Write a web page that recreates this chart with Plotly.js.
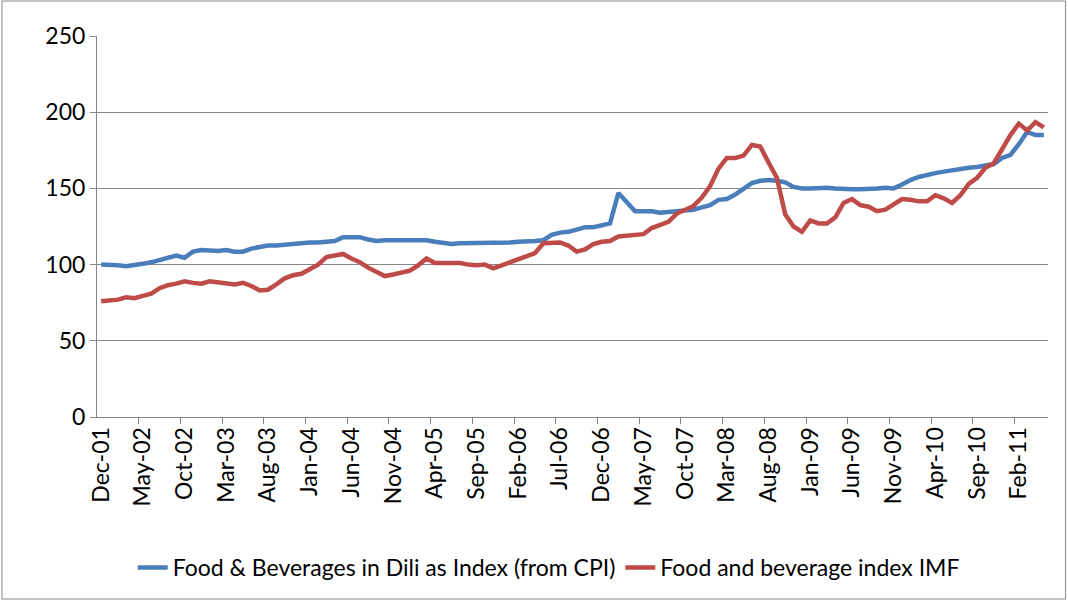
<!DOCTYPE html>
<html>
<head>
<meta charset="utf-8">
<script src="https://cdn.plot.ly/plotly-3.0.1.min.js"></script>
<style>
  html, body { margin: 0; padding: 0; background: #fff; }
  #chart { width: 1068px; height: 603px; }
</style>
</head>
<body>
<div id="chart"></div>
<script>
// monthly categories, Dec-01 .. May-11
var months = [
  'Dec-01',
  'Jan-02','Feb-02','Mar-02','Apr-02','May-02','Jun-02','Jul-02','Aug-02','Sep-02','Oct-02','Nov-02','Dec-02',
  'Jan-03','Feb-03','Mar-03','Apr-03','May-03','Jun-03','Jul-03','Aug-03','Sep-03','Oct-03','Nov-03','Dec-03',
  'Jan-04','Feb-04','Mar-04','Apr-04','May-04','Jun-04','Jul-04','Aug-04','Sep-04','Oct-04','Nov-04','Dec-04',
  'Jan-05','Feb-05','Mar-05','Apr-05','May-05','Jun-05','Jul-05','Aug-05','Sep-05','Oct-05','Nov-05','Dec-05',
  'Jan-06','Feb-06','Mar-06','Apr-06','May-06','Jun-06','Jul-06','Aug-06','Sep-06','Oct-06','Nov-06','Dec-06',
  'Jan-07','Feb-07','Mar-07','Apr-07','May-07','Jun-07','Jul-07','Aug-07','Sep-07','Oct-07','Nov-07','Dec-07',
  'Jan-08','Feb-08','Mar-08','Apr-08','May-08','Jun-08','Jul-08','Aug-08','Sep-08','Oct-08','Nov-08','Dec-08',
  'Jan-09','Feb-09','Mar-09','Apr-09','May-09','Jun-09','Jul-09','Aug-09','Sep-09','Oct-09','Nov-09','Dec-09',
  'Jan-10','Feb-10','Mar-10','Apr-10','May-10','Jun-10','Jul-10','Aug-10','Sep-10','Oct-10','Nov-10','Dec-10',
  'Jan-11','Feb-11','Mar-11','Apr-11','May-11'
];

// Food & Beverages in Dili as Index (from CPI)
var cpiFood = [
  100, 100, 99.5, 99, 99.5, 100.5, 101.5, 103, 104, 106,
  104.5, 108.5, 109.5, 109, 109, 109.5, 108.5, 108.5, 110.5, 111.5,
  112.5, 112.5, 113, 114, 114.5, 114.5, 114.5, 115, 115.5, 118,
  118, 118, 116.5, 115.5, 116, 116, 116.5, 116.5, 116.5, 116,
  115, 114, 113.5, 114, 114, 114, 114, 114, 114, 114.5,
  115, 115, 115.5, 116, 119.5, 121, 121.5, 123, 124.5, 124.5,
  125.5, 127, 147, 141.5, 135, 135, 135, 134, 134.5, 135,
  135.5, 136, 137.5, 139, 142.5, 143, 146, 149.5, 153.5, 155,
  155.5, 155, 154, 151, 150, 150, 150.5, 150.5, 150, 149.5,
  149.5, 149.5, 149.5, 150, 150.5, 150, 152.5, 155.5, 157.5, 159,
  160, 161, 162, 163, 163.5, 164, 165, 166, 170, 172,
  179, 187, 185, 185
];

// Food and beverage index IMF
var imfFood = [
  76, 76.5, 77, 78.5, 78, 79.5, 81, 84.5, 86.5, 87.5,
  89, 88, 87.5, 89, 88.5, 87.5, 87, 88, 86, 83,
  83.5, 87, 91, 93, 94, 97, 100, 105, 106, 107,
  104, 101.5, 98, 95.5, 92.5, 93.5, 95, 96, 99.5, 104,
  101, 101, 101, 101, 100, 99.5, 100, 97.5, 99.5, 101.5,
  104, 105.5, 107.5, 114, 114.5, 114.5, 112.5, 108.5, 110, 113.5,
  115, 115.5, 118.5, 119, 119, 120, 124, 126, 128, 133.5,
  136, 138.5, 144, 151.5, 163, 170, 170, 171.5, 178.5, 177.5,
  167, 157, 133, 125, 121.5, 129, 127, 127, 131, 140.5,
  143, 139, 138, 135, 136, 139.5, 143, 142.5, 141.5, 141.5,
  145.5, 143.5, 140.5, 145.5, 153, 157, 163.5, 166.5, 176.5, 185,
  192.5, 188, 193.5, 190
];

var seriesNames = ['Food & Beverages in Dili as Index (from CPI)', 'Food and beverage index IMF'];
var labelStep = 5;

var idx = months.map(function (m, i) { return i; });
var tickIdx = idx.filter(function (i) { return i % labelStep === 0; });
var tickText = tickIdx.map(function (i) { return months[i]; });
var minorTicks = tickIdx.slice(1).map(function (i) { return i - 0.5; });

var gridGrey = '#868686';

var trace1 = {
  x: idx,
  y: cpiFood,
  mode: 'lines',
  name: seriesNames[0],
  line: { color: '#4A7EBB', width: 4.5 }
};

var trace2 = {
  x: idx,
  y: imfFood,
  mode: 'lines',
  name: seriesNames[1],
  line: { color: '#BE4B48', width: 4.5 }
};

var layout = {
  width: 1068,
  height: 603,
  margin: { l: 97, r: 20, t: 36, b: 186 },
  paper_bgcolor: '#fff',
  plot_bgcolor: '#fff',
  font: { family: 'Lato, "Liberation Sans", sans-serif', size: 23, color: '#000' },
  showlegend: true,
  legend: {
    orientation: 'h',
    x: 0.475, xanchor: 'center',
    y: -0.395, yanchor: 'middle',
    font: { size: 23 },
    traceorder: 'normal'
  },
  xaxis: {
    range: [-0.5, idx.length - 0.5],
    tickmode: 'array',
    tickvals: tickIdx,
    ticktext: tickText,
    tickangle: -90,
    ticks: '',
    showgrid: false,
    zeroline: false,
    showline: true,
    linecolor: gridGrey,
    linewidth: 1,
    minor: { tickmode: 'array', tickvals: minorTicks, ticks: 'outside', ticklen: 6, tickcolor: gridGrey, showgrid: false }
  },
  yaxis: {
    range: [0, 250],
    tickmode: 'linear',
    tick0: 0,
    dtick: 50,
    ticks: 'outside',
    ticklen: 6,
    tickcolor: gridGrey,
    showgrid: true,
    gridcolor: gridGrey,
    gridwidth: 1,
    zeroline: false,
    showline: true,
    linecolor: gridGrey,
    linewidth: 1
  },
  shapes: [{
    type: 'rect', xref: 'paper', yref: 'paper',
    x0: -0.0999, x1: 1.0185, y0: -0.4777, y1: 1.0918,
    line: { color: gridGrey, width: 1 }
  }]
};

Plotly.newPlot('chart', [trace1, trace2], layout, { staticPlot: true });
</script>
</body>
</html>
